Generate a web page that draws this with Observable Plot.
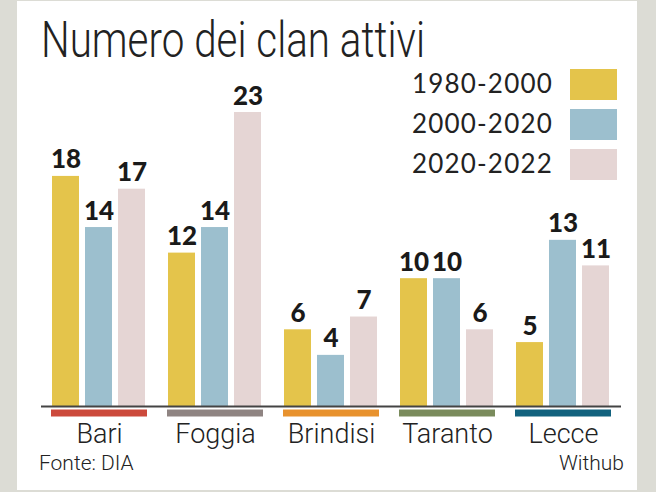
<!DOCTYPE html>
<html><head><meta charset="utf-8">
<script src="https://cdn.jsdelivr.net/npm/d3@7"></script>
<script src="https://cdn.jsdelivr.net/npm/@observablehq/plot@0.6"></script>
<style>
html,body{margin:0;padding:0;}
body{width:656px;height:492px;background:#dcdcd5;position:relative;overflow:hidden;font-family:Roboto,"Open Sans",sans-serif;color:#2b2b2b;}
#panel{position:absolute;left:17px;top:1px;width:620px;height:489px;background:#fff;}
#title{position:absolute;left:41px;top:15px;font-weight:300;font-size:50px;line-height:50px;white-space:nowrap;transform-origin:0 0;color:#222;}
.leg{position:absolute;right:103px;font-family:Lato,sans-serif;font-weight:400;font-size:26px;line-height:26px;letter-spacing:1.2px;white-space:nowrap;color:#222;}
.sw{position:absolute;left:570px;width:47px;height:31px;}
.cap{position:absolute;top:453px;font-weight:300;font-size:21px;line-height:21px;white-space:nowrap;color:#222;}
#chart{position:absolute;left:17px;top:60px;}
#chart svg{background:transparent !important;overflow:visible;}
</style></head>
<body>
<div id="panel"></div>
<div id="title">Numero dei clan attivi</div>
<div id="legend"></div>
<div id="chart"></div>
<div class="cap" style="left:39px">Fonte: DIA</div>
<div class="cap" style="right:32px">Withub</div>
<script>
const cities = ["Bari","Foggia","Brindisi","Taranto","Lecce"];
const periods = ["1980-2000","2000-2020","2020-2022"];
const v1980_2000 = [18,12,6,10,5];
const v2000_2020 = [14,14,4,10,13];
const v2020_2022 = [17,23,7,6,11];
const periodColors = ["#e4c44b","#9cbfce","#e5d5d4"];
const cityColors = ["#cc4a3c","#8f8482","#e8922e","#7a8b5c","#12627e"];

const series = [v1980_2000, v2000_2020, v2020_2022];
const data = cities.flatMap((c,i)=>series.map((vs,j)=>({city:c, period:periods[j], value:vs[i], fill:periodColors[j]})));
const cityRows = cities.map((c,i)=>({city:c, color:cityColors[i]}));

// legend
const legend = document.getElementById("legend");
periods.forEach((p,j)=>{
  const t = document.createElement("div");
  t.className="leg"; t.textContent=p; t.style.top=(70+40*j)+"px";
  legend.appendChild(t);
  const s = document.createElement("div");
  s.className="sw"; s.style.top=(69+40*j)+"px"; s.style.background=periodColors[j];
  legend.appendChild(s);
});

const chart = Plot.plot({
  width: 620, height: 396,
  marginLeft: 23, marginRight: 15, marginTop: 52, marginBottom: 50,
  style: {background:"transparent", fontFamily:"Roboto, sans-serif"},
  fx: {domain: cities, paddingInner: 0.1724, paddingOuter: 0.0948, axis: null, label: null},
  x: {domain: periods, paddingInner: 0.176, paddingOuter: 0, axis: null, label: null},
  y: {domain: [0,23], axis: null, label: null},
  color: {type: "identity"},
  marks: [
    Plot.barY(data, {fx:"city", x:"period", y:"value", fill:"fill"}),
    Plot.ruleY([0], {stroke:"#444", strokeWidth:2, insetLeft:-10, insetRight:-10}),
    Plot.ruleY(cityRows, {fx:"city", y:()=>0, stroke:"color", strokeWidth:7, dy:6.5}),
    Plot.text(data, {fx:"city", x:"period", y:"value", text:d=>String(d.value), lineAnchor:"bottom", dy:-8,
      fontSize:26, fontWeight:900, fontFamily:"Lato, sans-serif", fill:"#1a1a1a"}),
    Plot.text(cities, {fx:d=>d, text:d=>d, frameAnchor:"bottom", lineAnchor:"top", dy:17,
      fontSize:27, fontWeight:300, fontFamily:"Roboto, sans-serif", fill:"#222", ariaLabel:"city labels"})
  ]
});
document.getElementById("chart").appendChild(chart);
chart.querySelectorAll('g[aria-label="city labels"] text').forEach(t=>{
  const tr = t.getAttribute("transform")||"";
  t.setAttribute("transform", tr+" scale(0.9,1)");
});

const title = document.getElementById("title");
const w = title.getBoundingClientRect().width;
title.style.transform = `scaleX(${384/w})`;
</script>
</body></html>
